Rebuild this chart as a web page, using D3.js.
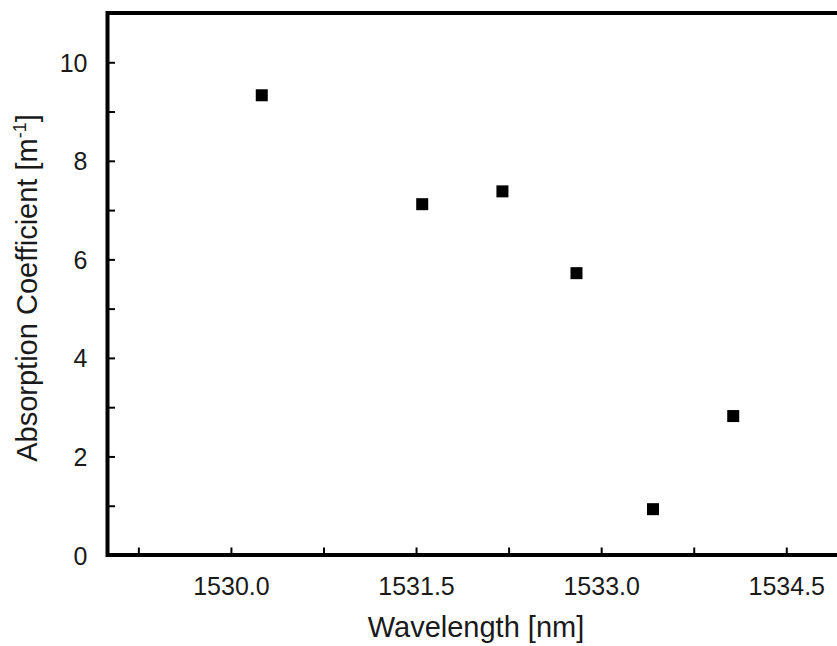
<!DOCTYPE html>
<html>
<head>
<meta charset="utf-8">
<script src="https://cdn.jsdelivr.net/npm/d3@7/dist/d3.min.js"></script>
<style>
  html, body { margin: 0; padding: 0; background: #fff; overflow: hidden; }
  svg { display: block; font-family: "Liberation Sans", Arial, sans-serif; }
</style>
</head>
<body>
<svg id="chart" width="837" height="646"></svg>
<script>
// Measured absorption coefficient vs. wavelength
const wavelengths = [1530.25, 1531.55, 1532.20, 1532.80, 1533.42, 1534.07];
const absorption  = [9.33, 7.12, 7.38, 5.72, 0.93, 2.82];

const xDomain = [1529.0, 1535.0];
const yDomain = [0, 11];
const xMajorTicks = [1530.0, 1531.5, 1533.0, 1534.5];
const xMinorTicks = [1529.25, 1530.75, 1532.25, 1533.75];
const yMajorTicks = [0, 2, 4, 6, 8, 10];
const yMinorTicks = [1, 3, 5, 7, 9];

const svg = d3.select("#chart");
const plotLeft = 107.5, plotTop = 13, plotBottom = 555, plotRight = 848;

const x = d3.scaleLinear().domain(xDomain).range([plotLeft, plotRight]);
const y = d3.scaleLinear().domain(yDomain).range([plotBottom, plotTop]);

const tickLen = 7.5;
const ink = "#000";

// Frame
svg.append("rect")
  .attr("x", plotLeft).attr("y", plotTop)
  .attr("width", plotRight - plotLeft).attr("height", plotBottom - plotTop)
  .attr("fill", "none").attr("stroke", ink).attr("stroke-width", 4);

// Bottom axis: ticks point inward
const xAxis = d3.axisBottom(x)
  .tickValues(xMajorTicks.concat(xMinorTicks))
  .tickSize(-tickLen).tickPadding(0)
  .tickFormat(d => xMajorTicks.includes(d) ? d.toFixed(1) : "");
const gx = svg.append("g").attr("transform", `translate(0,${plotBottom})`).call(xAxis);
gx.select(".domain").remove();
gx.selectAll(".tick line").attr("stroke", ink).attr("stroke-width", 2);
gx.selectAll(".tick text")
  .attr("y", 40).attr("dy", null)
  .attr("fill", "#1a1a1a")
  .style("font-size", "25px");

// Left axis: ticks point inward
const yAxis = d3.axisLeft(y)
  .tickValues(yMajorTicks.concat(yMinorTicks))
  .tickSize(-tickLen).tickPadding(0)
  .tickFormat(d => yMajorTicks.includes(d) ? d3.format("d")(d) : "");
const gy = svg.append("g").attr("transform", `translate(${plotLeft},0)`).call(yAxis);
gy.select(".domain").remove();
gy.selectAll(".tick line").attr("stroke", ink).attr("stroke-width", 2);
gy.selectAll(".tick text")
  .attr("x", -20).attr("dy", "0.36em")
  .attr("fill", "#1a1a1a")
  .style("font-size", "25px");

// Axis titles
svg.append("text")
  .attr("x", 476).attr("y", 637)
  .attr("text-anchor", "middle")
  .attr("fill", "#1a1a1a")
  .style("font-size", "29px")
  .text("Wavelength [nm]");

const yTitle = svg.append("text")
  .attr("transform", "translate(37,288) rotate(-90)")
  .attr("text-anchor", "middle")
  .attr("fill", "#1a1a1a")
  .style("font-size", "29px");
yTitle.append("tspan").text("Absorption Coefficient [m");
yTitle.append("tspan").attr("dy", -11).style("font-size", "18px").text("-1");
yTitle.append("tspan").attr("dy", 11).text("]");

// Data markers
const size = 12;
svg.append("g").selectAll("rect")
  .data(wavelengths.map((w, i) => ({ w, a: absorption[i] })))
  .join("rect")
  .attr("x", d => x(d.w) - size / 2)
  .attr("y", d => y(d.a) - size / 2)
  .attr("width", size).attr("height", size)
  .attr("fill", ink);
</script>
</body>
</html>
